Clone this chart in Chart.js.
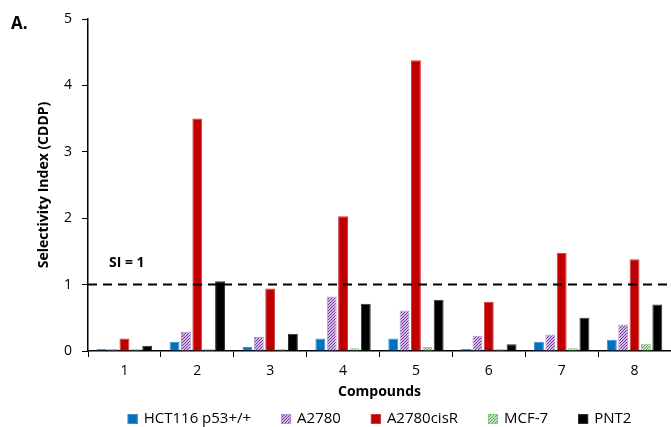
<!DOCTYPE html>
<html>
<head>
<meta charset="utf-8">
<script src="https://cdn.jsdelivr.net/npm/chart.js@4"></script>
<style>
  html, body { margin: 0; padding: 0; background: #fff; }
  #wrap { position: relative; width: 671px; height: 427px; }
  #panel { position: absolute; left: 11px; top: 11px; font: bold 17px "Open Sans", sans-serif; color: #000; }
</style>
</head>
<body>
<div id="wrap">
  <canvas id="siChart" width="671" height="427"></canvas>
  <div id="panel">A.</div>
</div>
<script>
// Data
const compounds = ['1', '2', '3', '4', '5', '6', '7', '8'];
const hct116 = [0.01, 0.14, 0.06, 0.19, 0.19, 0.01, 0.14, 0.17];
const a2780 = [0.01, 0.29, 0.21, 0.82, 0.61, 0.23, 0.25, 0.40];
const a2780cisR = [0.19, 3.50, 0.94, 2.03, 4.38, 0.74, 1.48, 1.38];
const mcf7 = [0.01, 0.01, 0.02, 0.04, 0.06, 0.02, 0.04, 0.11];
const pnt2 = [0.08, 1.05, 0.26, 0.71, 0.77, 0.10, 0.50, 0.70];
const yTicks = [0, 1, 2, 3, 4, 5];
const siLine = 1;

const FONT = '"Open Sans", sans-serif';

// Hatched fill for the patterned series
function hatch(bg, fg, size) {
    const c = document.createElement('canvas');
    c.width = size; c.height = size;
    const g = c.getContext('2d');
    g.fillStyle = bg;
    g.fillRect(0, 0, size, size);
    g.strokeStyle = fg;
    g.lineWidth = 1.2;
    g.beginPath();
    g.moveTo(-1, size + 1); g.lineTo(size + 1, -1);
    g.moveTo(-1, 1); g.lineTo(1, -1);
    g.moveTo(size - 1, size + 1); g.lineTo(size + 1, size - 1);
    g.stroke();
    return g.createPattern(c, 'repeat');
}

// Dashed SI = 1 reference line
const siPlugin = {
    id: 'siLine',
    afterDatasetsDraw(chart) {
        const { ctx, chartArea } = chart;
        const y = chart.scales.y.getPixelForValue(siLine);
        ctx.save();
        ctx.strokeStyle = '#000';
        ctx.lineWidth = 2;
        ctx.setLineDash([9, 6]);
        ctx.beginPath();
        ctx.moveTo(chartArea.left, y);
        ctx.lineTo(chartArea.right, y);
        ctx.stroke();
        ctx.setLineDash([]);
        ctx.fillStyle = '#000';
        ctx.font = 'bold 14px ' + FONT;
        ctx.textBaseline = 'middle';
        ctx.fillText('SI = 1', chartArea.left + 21, y - 22);
        ctx.restore();
    }
};

// Legend row under the axis title
const legendPlugin = {
    id: 'bottomLegend',
    afterDraw(chart) {
        const { ctx, chartArea } = chart;
        const box = 10, gapText = 6, gapItem = 30;
        ctx.save();
        ctx.font = '15px ' + FONT;
        ctx.textBaseline = 'middle';
        const items = chart.data.datasets.map(ds => ({ ds, w: ctx.measureText(ds.label).width }));
        const total = items.reduce((s, it) => s + box + gapText + it.w, 0) + gapItem * (items.length - 1);
        let x = (chartArea.left + chartArea.right) / 2 - total / 2;
        const y = 419;
        items.forEach(it => {
            ctx.fillStyle = it.ds.backgroundColor;
            ctx.fillRect(x, y - box / 2, box, box);
            ctx.strokeStyle = it.ds.borderColor;
            ctx.lineWidth = 1;
            ctx.strokeRect(x + 0.5, y - box / 2 + 0.5, box - 1, box - 1);
            ctx.fillStyle = '#000';
            ctx.fillText(it.ds.label, x + box + gapText, y);
            x += box + gapText + it.w + gapItem;
        });
        ctx.restore();
    }
};

const ctx = document.getElementById('siChart').getContext('2d');
const chart = new Chart(ctx, {
    type: 'bar',
    data: {
        labels: compounds,
        datasets: [
            { label: 'HCT116 p53+/+', data: hct116, backgroundColor: '#0070C0', borderColor: '#3d8fd0', borderWidth: 1 },
            { label: 'A2780', data: a2780, backgroundColor: hatch('#ffffff', '#7030A0', 3), borderColor: '#b496d8', borderWidth: 1 },
            { label: 'A2780cisR', data: a2780cisR, backgroundColor: '#C00000', borderColor: '#d23a3a', borderWidth: 1 },
            { label: 'MCF-7', data: mcf7, backgroundColor: hatch('#ffffff', '#4ea64a', 3), borderColor: '#8ccc84', borderWidth: 1 },
            { label: 'PNT2', data: pnt2, backgroundColor: '#000000', borderColor: '#333333', borderWidth: 1 }
        ]
    },
    options: {
        responsive: false,
        animation: false,
        layout: { padding: { left: 36, right: 0, top: 19, bottom: 27 } },
        datasets: { bar: { categoryPercentage: 0.78, barPercentage: 0.87, minBarLength: 2 } },
        scales: {
            x: {
                grid: { display: true, drawOnChartArea: false, offset: true, color: '#000', tickLength: 6, lineWidth: 1 },
                border: { color: '#000', width: 1.5 },
                ticks: { color: '#000', font: { family: FONT, size: 14 }, padding: 6 },
                title: { display: true, text: 'Compounds', color: '#000', font: { family: FONT, size: 14, weight: 'bold' }, padding: 0 },
                afterFit(scale) { scale.height = 49; }
            },
            y: {
                min: 0,
                max: 5,
                afterBuildTicks(scale) { scale.ticks = yTicks.map(v => ({ value: v })); },
                grid: { display: true, drawOnChartArea: false, color: '#000', tickLength: 6 },
                border: { color: '#000', width: 1.5 },
                ticks: { color: '#000', font: { family: FONT, size: 14 }, padding: 10 },
                title: { display: true, text: 'Selectivity Index (CDDP)', color: '#000', font: { family: FONT, size: 14, weight: 'bold' }, padding: 0 },
                afterFit(scale) { scale.width = 52; }
            }
        },
        plugins: {
            legend: { display: false },
            tooltip: { enabled: false }
        }
    },
    plugins: [siPlugin, legendPlugin]
});
</script>
</body>
</html>
